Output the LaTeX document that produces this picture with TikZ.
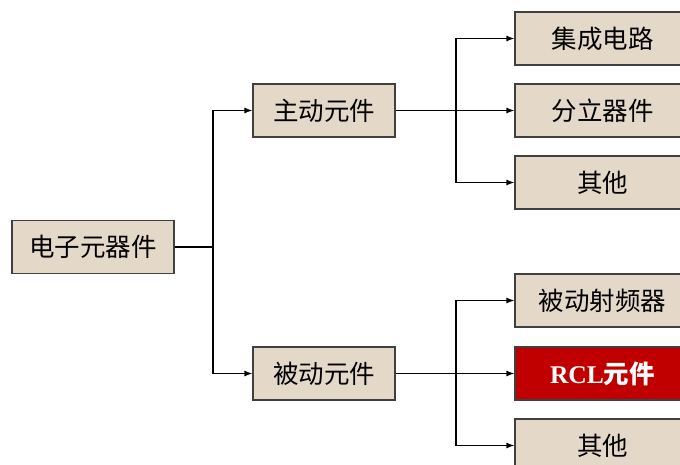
\documentclass[tikz,border=0pt]{standalone}
\usepackage{fontspec}
\setmainfont{Liberation Serif}
\newfontfamily\cjk{Noto Sans CJK SC}
\usepackage{tikz}
\usepackage{xcolor}
\usetikzlibrary{positioning, arrows.meta}

\definecolor{boxfill}{RGB}{228,216,201}
\definecolor{boxline}{RGB}{64,64,64}
\definecolor{hotred}{RGB}{192,0,0}

\begin{document}
\begin{tikzpicture}[x=1pt,y=-1pt]
                % Define the styles for the boxes and the branch lines
                \tikzstyle{part}=[draw=boxline, line width=1.2pt, fill=boxfill, minimum height=53pt, inner sep=0pt, font=\fontsize{25.5}{29}\selectfont\cjk];
                \tikzstyle{leaf}=[part, minimum width=175pt];
                \tikzstyle{branch}=[line width=1.2pt, -{Latex[length=8pt,width=6pt]}];

                % Fix the page size
                \useasboundingbox (0,0) rectangle (680,465);
                \clip (0,0) rectangle (680,465);

                % Root and the two groups
                \node[part, minimum width=162pt] (root) at (93,247) {电子元器件};
                \node[part, minimum width=142pt] (active) at (324,110.5) {主动元件};
                \node[part, minimum width=142pt] (passive) at (324,373.5) {被动元件};

                % Leaves of the active group
                \node[leaf] (ic) at (602.5,38.5) {集成电路};
                \node[leaf] (discrete) at (602.5,110.5) {分立器件};
                \node[leaf] (otherA) at (602.5,182.5) {其他};

                % Leaves of the passive group
                \node[leaf] (rf) at (602.5,300.5) {被动射频器};
                \node[leaf, fill=hotred, text=white] (rcl) at (602.5,373.5) {\bfseries\rmfamily RCL\cjk 元件};
                \node[leaf] (otherP) at (602.5,445.5) {其他};

                % Junction points
                \coordinate (j0) at (213,247);
                \coordinate (j1) at (456,110.5);
                \coordinate (j2) at (456,373.5);

                % Connect root to groups
                \draw[line width=1.2pt] (root.east) -- (j0);
                \draw[branch] (j0) |- (active.west);
                \draw[branch] (j0) |- (passive.west);

                % Connect groups to leaves
                \draw[line width=1.2pt] (active.east) -- (j1);
                \foreach \n in {ic, discrete, otherA}
                    \draw[branch] (j1) |- (\n.west);
                \draw[line width=1.2pt] (passive.east) -- (j2);
                \foreach \n in {rf, rcl, otherP}
                    \draw[branch] (j2) |- (\n.west);
            \end{tikzpicture}
\end{document}
